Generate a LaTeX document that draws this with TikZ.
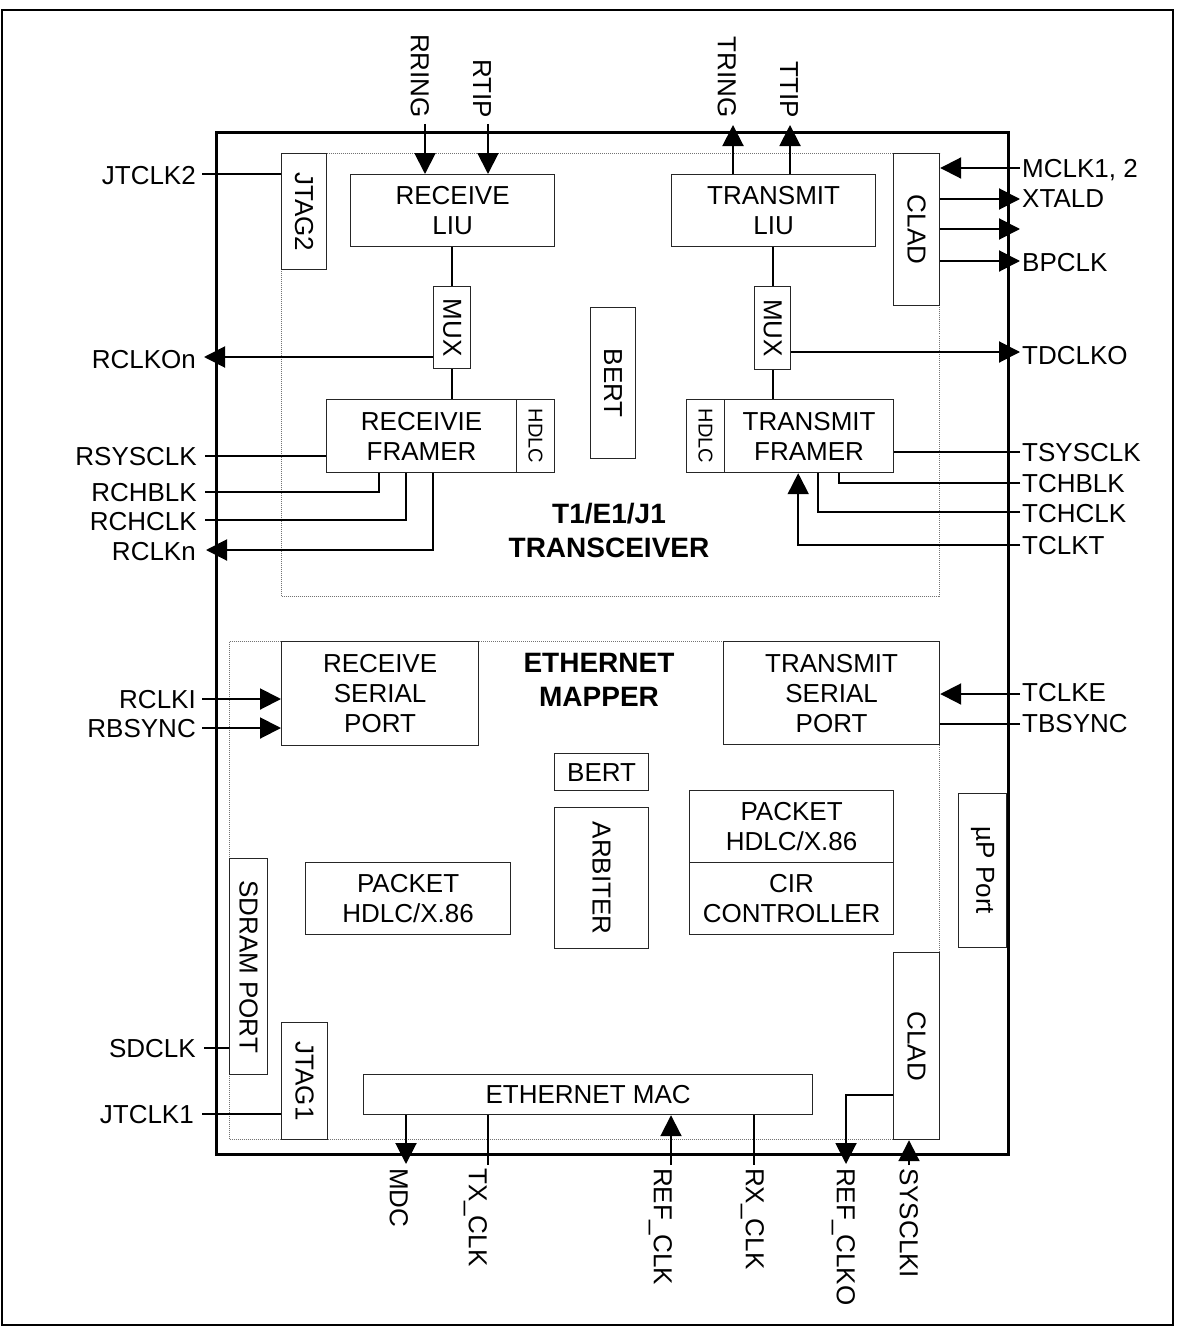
\documentclass[tikz,border=0pt]{standalone}
\usepackage{fontspec}
\setmainfont{Liberation Sans}
\usepackage{graphicx}
\usetikzlibrary{arrows.meta}
\newcommand\pinfs{\fontsize{26}{30}\selectfont}
\newcommand\hdlcfs{\fontsize{20}{24}\selectfont}
\newcommand\ttlfs{\fontsize{28}{34}\selectfont\bfseries}
\newcommand\rotlbl[1]{\rotatebox{-90}{#1}}
\begin{document}
\begin{tikzpicture}[x=1pt,y=-1pt,
  blk/.style={draw=black!85, line width=1.2pt, fill=white, inner sep=0pt, align=center, font=\pinfs, anchor=north west},
  region/.style={draw=black!55, line width=1pt, dash pattern=on 1pt off 1pt, inner sep=0pt, anchor=north west},
  chipbox/.style={draw=black, line width=3pt, inner sep=0pt, anchor=north west},
  conn/.style={draw=black, line width=2pt},
  arr/.style={conn, -{Triangle[length=21pt,width=21pt]}},
  pinL/.style={font=\pinfs, inner sep=0pt, text depth=0pt, anchor=east},
  pinR/.style={font=\pinfs, inner sep=0pt, text depth=0pt, anchor=west},
  pinT/.style={font=\pinfs, inner sep=0pt, text depth=0pt, rotate=-90, anchor=east},
  pinB/.style={font=\pinfs, inner sep=0pt, text depth=0pt, rotate=-90, anchor=west},
  ttl/.style={font=\ttlfs, align=center, inner sep=0pt}]
\useasboundingbox (0,0) rectangle (1180,1327);
\draw[line width=2.5pt] (2,10) rectangle (1173,1325);

% regions and chip
\node[region, minimum width=658pt, minimum height=443pt] (t1reg) at (281,153) {};
\node[region, minimum width=710pt, minimum height=498pt] (ethreg) at (229,641) {};
\node[chipbox, minimum width=792pt, minimum height=1022pt] (chip) at (215,131) {};

% T1 blocks
\node[blk, minimum width=45pt, minimum height=116pt] (jtag2) at (281,153) {\rotlbl{JTAG2}};
\node[blk, minimum width=204pt, minimum height=72pt] (rliu) at (350,174) {RECEIVE\\LIU};
\node[blk, minimum width=204pt, minimum height=72pt] (tliu) at (671,174) {TRANSMIT\\LIU};
\node[blk, minimum width=46pt, minimum height=152pt] (clad1) at (893,153) {\rotlbl{CLAD}};
\node[blk, minimum width=37pt, minimum height=82pt] (rmux) at (433,286) {\rotlbl{MUX}};
\node[blk, minimum width=36pt, minimum height=83pt] (tmux) at (754,286) {\rotlbl{MUX}};
\node[blk, minimum width=190pt, minimum height=73pt] (rfr) at (326,399) {RECEIVIE\\FRAMER};
\node[blk, minimum width=38pt, minimum height=73pt] (rhdlc) at (516,399) {\rotlbl{\hdlcfs HDLC}};
\node[blk, minimum width=45pt, minimum height=151pt] (bert1) at (590,307) {\rotlbl{BERT}};
\node[blk, minimum width=38pt, minimum height=73pt] (thdlc) at (686,399) {\rotlbl{\hdlcfs HDLC}};
\node[blk, minimum width=169pt, minimum height=73pt] (tfr) at (724,399) {TRANSMIT\\FRAMER};
\node[ttl] (t1title) at (609,530) {T1/E1/J1\\TRANSCEIVER};

% Ethernet blocks
\node[blk, minimum width=197pt, minimum height=104pt] (rsp) at (281,641) {RECEIVE\\SERIAL\\PORT};
\node[blk, minimum width=216pt, minimum height=103pt] (tsp) at (723,641) {TRANSMIT\\SERIAL\\PORT};
\node[ttl] (ethtitle) at (599,680) {ETHERNET\\MAPPER};
\node[blk, minimum width=94pt, minimum height=37pt] (bert2) at (554,753) {BERT};
\node[blk, minimum width=94pt, minimum height=141pt] (arb) at (554,807) {\rotlbl{ARBITER}};
\node[blk, minimum width=204pt, minimum height=72pt] (pkt2) at (689,790) {PACKET\\HDLC/X.86};
\node[blk, minimum width=204pt, minimum height=72pt] (cir) at (689,862) {CIR\\CONTROLLER};
\node[blk, minimum width=48pt, minimum height=154pt] (up) at (958,793) {\rotlbl{µP Port}};
\node[blk, minimum width=38pt, minimum height=216pt] (sdram) at (229,858) {\rotlbl{SDRAM PORT}};
\node[blk, minimum width=205pt, minimum height=72pt] (pkt1) at (305,862) {PACKET\\HDLC/X.86};
\node[blk, minimum width=46pt, minimum height=117pt] (jtag1) at (281,1022) {\rotlbl{JTAG1}};
\node[blk, minimum width=449pt, minimum height=40pt] (mac) at (363,1074) {ETHERNET MAC};
\node[blk, minimum width=46pt, minimum height=187pt] (clad2) at (893,952) {\rotlbl{CLAD}};

% pin labels left
\node[pinL] (jtclk2) at (196,175) {JTCLK2};
\node[pinL] (rclkon) at (196,359) {RCLKOn};
\node[pinL] (rsysclk) at (197,456) {RSYSCLK};
\node[pinL] (rchblk) at (197,492) {RCHBLK};
\node[pinL] (rchclk) at (197,521) {RCHCLK};
\node[pinL] (rclkn) at (196,551) {RCLKn};
\node[pinL] (rclki) at (196,699) {RCLKI};
\node[pinL] (rbsync) at (196,728) {RBSYNC};
\node[pinL] (sdclk) at (196,1048) {SDCLK};
\node[pinL] (jtclk1) at (194,1114) {JTCLK1};

% pin labels right
\node[pinR] (mclk) at (1022,168) {MCLK1, 2};
\node[pinR] (xtald) at (1022,199) {XTALD};
\node[pinR] (bpclk) at (1022,262) {BPCLK};
\node[pinR] (tdclko) at (1022,355) {TDCLKO};
\node[pinR] (tsysclk) at (1022,452) {TSYSCLK};
\node[pinR] (tchblk) at (1022,483) {TCHBLK};
\node[pinR] (tchclk) at (1022,513) {TCHCLK};
\node[pinR] (tclkt) at (1022,545) {TCLKT};
\node[pinR] (tclke) at (1022,692) {TCLKE};
\node[pinR] (tbsync) at (1022,723) {TBSYNC};

% pin labels top
\node[pinT] (rring) at (420,118) {RRING};
\node[pinT] (rtip) at (482,118) {RTIP};
\node[pinT] (tring) at (727,118) {TRING};
\node[pinT] (ttip) at (789,118) {TTIP};

% pin labels bottom
\node[pinB] (mdc) at (399,1168) {MDC};
\node[pinB] (txclk) at (478,1168) {TX\_CLK};
\node[pinB] (refclk) at (663,1168) {REF\_CLK};
\node[pinB] (rxclk) at (755,1168) {RX\_CLK};
\node[pinB] (refclko) at (846,1168) {REF\_CLKO};
\node[pinB] (sysclki) at (909,1168) {SYSCLKI};

% pin end points
\coordinate (jtclk2P) at (202,174);
\coordinate (rclkonP) at (204,357);
\coordinate (rsysclkP) at (205,456);
\coordinate (rchblkP) at (205,492);
\coordinate (rchclkP) at (205,520);
\coordinate (rclknP) at (206,550);
\coordinate (rclkiP) at (202,699);
\coordinate (rbsyncP) at (202,728);
\coordinate (sdclkP) at (204,1048);
\coordinate (jtclk1P) at (202,1114);
\coordinate (mclkP) at (1020,168);
\coordinate (xtaldP) at (1020,199);
\coordinate (nclP) at (1020,229);
\coordinate (bpclkP) at (1020,261);
\coordinate (tdclkoP) at (1020,352);
\coordinate (tsysclkP) at (1020,452);
\coordinate (tchblkP) at (1020,483);
\coordinate (tchclkP) at (1020,512);
\coordinate (tclktP) at (1020,545);
\coordinate (tclkeP) at (1020,694);
\coordinate (tbsyncP) at (1020,724);
\coordinate (rringP) at (425,124);
\coordinate (rtipP) at (488,124);
\coordinate (tringP) at (733,125);
\coordinate (ttipP) at (790,125);
\coordinate (mdcP) at (406,1164);
\coordinate (txclkP) at (488,1165);
\coordinate (refclkP) at (671,1165);
\coordinate (rxclkP) at (754,1165);
\coordinate (refclkoP) at (846,1164);
\coordinate (refclkoK) at (846,1095);
\coordinate (sysclkiP) at (909,1165);

% connectors left
\draw[conn] (jtclk2P) -- (jtclk2P -| jtag2.west);
\draw[arr] (rclkonP -| rmux.west) -- (rclkonP);
\draw[conn] (rsysclkP) -- (rsysclkP -| rfr.west);
\draw[conn] (rchblkP) -| ([xshift=53pt]rfr.south west);
\draw[conn] (rchclkP) -| ([xshift=80pt]rfr.south west);
\draw[arr] ([xshift=107pt]rfr.south west) |- (rclknP);
\draw[arr] (rclkiP) -- (rclkiP -| rsp.west);
\draw[arr] (rbsyncP) -- (rbsyncP -| rsp.west);
\draw[conn] (sdclkP) -- (sdclkP -| sdram.west);
\draw[conn] (jtclk1P) -- (jtclk1P -| jtag1.west);

% connectors top and internal
\draw[arr] (rringP) -- (rringP |- rliu.north);
\draw[arr] (rtipP) -- (rtipP |- rliu.north);
\draw[arr] (tringP |- tliu.north) -- (tringP);
\draw[arr] (ttipP |- tliu.north) -- (ttipP);
\draw[conn] (rmux.north |- rliu.south) -- (rmux.north);
\draw[conn] (rmux.south) -- (rmux.south |- rfr.north);
\draw[conn] (tmux.north |- tliu.south) -- (tmux.north);
\draw[conn] (tmux.south) -- (tmux.south |- tfr.north);

% connectors right
\draw[arr] (mclkP) -- (mclkP -| clad1.east);
\draw[arr] (xtaldP -| clad1.east) -- (xtaldP);
\draw[arr] (nclP -| clad1.east) -- (nclP);
\draw[arr] (bpclkP -| clad1.east) -- (bpclkP);
\draw[arr] (tdclkoP -| tmux.east) -- (tdclkoP);
\draw[conn] (tsysclkP) -- (tsysclkP -| tfr.east);
\draw[conn] (tchblkP) -| ([xshift=-55pt]tfr.south east);
\draw[conn] (tchclkP) -| ([xshift=-76pt]tfr.south east);
\draw[arr] (tclktP) -| ([xshift=-96pt]tfr.south east);
\draw[arr] (tclkeP) -- (tclkeP -| tsp.east);
\draw[conn] (tbsyncP) -- (tbsyncP -| tsp.east);

% connectors bottom
\draw[arr] (mdcP |- mac.south) -- (mdcP);
\draw[conn] (txclkP |- mac.south) -- (txclkP);
\draw[arr] (refclkP) -- (refclkP |- mac.south);
\draw[conn] (rxclkP |- mac.south) -- (rxclkP);
\draw[arr] (refclkoK -| clad2.west) -- (refclkoK) -- (refclkoP);
\draw[arr] (sysclkiP) -- (sysclkiP |- clad2.south);
\end{tikzpicture}
\end{document}
